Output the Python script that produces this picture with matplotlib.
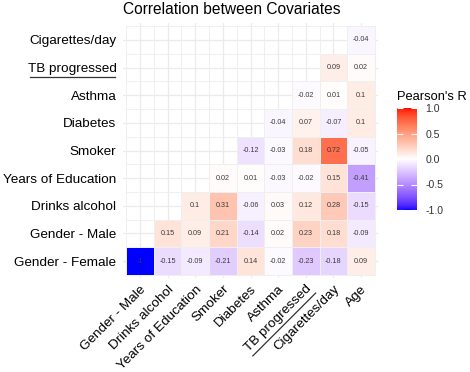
import numpy as np
import matplotlib
matplotlib.use("Agg")
import matplotlib.pyplot as plt
from matplotlib.colors import ListedColormap, Normalize
from matplotlib.lines import Line2D
import matplotlib.colorbar as mcolorbar

plt.rcParams['font.family'] = ['Liberation Sans', 'DejaVu Sans']

# ---- data ----
x_labels = ["Gender - Male", "Drinks alcohol", "Years of Education", "Smoker",
            "Diabetes", "Asthma", "TB progressed", "Cigarettes/day", "Age"]
y_labels = ["Gender - Female", "Gender - Male", "Drinks alcohol", "Years of Education",
            "Smoker", "Diabetes", "Asthma", "TB progressed", "Cigarettes/day"]

r_female = [-1, -0.15, -0.09, -0.21, 0.14, -0.02, -0.23, -0.18, 0.09]
r_male = [0.15, 0.09, 0.21, -0.14, 0.02, 0.23, 0.18, -0.09]
r_drinks = [0.1, 0.31, -0.06, 0.03, 0.12, 0.28, -0.15]
r_years = [0.02, 0.01, -0.03, -0.02, 0.15, -0.41]
r_smoker = [-0.12, -0.03, 0.18, 0.72, -0.05]
r_diabetes = [-0.04, 0.07, -0.07, 0.1]
r_asthma = [-0.02, 0.01, 0.1]
r_tb = [0.09, 0.02]
r_cig = [-0.04]
rows = [r_female, r_male, r_drinks, r_years, r_smoker, r_diabetes, r_asthma, r_tb, r_cig]

title = "Correlation between Covariates"
legend_title = "Pearson's R"
underlined = "TB progressed"

# ---- Lab-interpolated diverging palette (blue - white - red) ----
def srgb_to_lab(rgb):
    rgb = np.asarray(rgb, float)
    lin = np.where(rgb <= 0.04045, rgb / 12.92, ((rgb + 0.055) / 1.055) ** 2.4)
    M = np.array([[0.4124, 0.3576, 0.1805], [0.2126, 0.7152, 0.0722], [0.0193, 0.1192, 0.9505]])
    xyz = lin @ M.T / np.array([0.95047, 1.0, 1.08883])
    f = np.where(xyz > 0.008856, np.cbrt(xyz), 7.787 * xyz + 16 / 116)
    L = 116 * f[..., 1] - 16
    a = 500 * (f[..., 0] - f[..., 1])
    b = 200 * (f[..., 1] - f[..., 2])
    return np.stack([L, a, b], -1)

def lab_to_srgb(lab):
    L, a, b = lab[..., 0], lab[..., 1], lab[..., 2]
    fy = (L + 16) / 116
    fx = fy + a / 500
    fz = fy - b / 200
    f = np.stack([fx, fy, fz], -1)
    xyz = np.where(f ** 3 > 0.008856, f ** 3, (f - 16 / 116) / 7.787) * np.array([0.95047, 1.0, 1.08883])
    Minv = np.linalg.inv(np.array([[0.4124, 0.3576, 0.1805], [0.2126, 0.7152, 0.0722], [0.0193, 0.1192, 0.9505]]))
    lin = xyz @ Minv.T
    lin = np.clip(lin, 0, 1)
    rgb = np.where(lin <= 0.0031308, 12.92 * lin, 1.055 * lin ** (1 / 2.4) - 0.055)
    return np.clip(rgb, 0, 1)

lab_blue = srgb_to_lab([0, 0, 1])
lab_white = srgb_to_lab([1, 1, 1])
lab_red = srgb_to_lab([1, 0, 0])
t = np.linspace(0, 1, 256)[:, None]
lower = lab_blue + (lab_white - lab_blue) * t
upper = lab_white + (lab_red - lab_white) * t
cmap = ListedColormap(lab_to_srgb(np.vstack([lower, upper[1:]])))
norm = Normalize(-1, 1)

# ---- figure ----
W, H = 470, 372
fig = plt.figure(figsize=(W / 100, H / 100), dpi=100)
ax = fig.add_axes([123.4 / W, (H - 277.6) / H, 254.2 / W, 254.2 / H])

n = len(x_labels)
mat = np.full((len(y_labels), n), np.nan)
for i, r in enumerate(rows):
    mat[i, n - len(r):] = r
masked = np.ma.masked_invalid(mat)

ax.set_axisbelow(True)
ax.grid(True, color='#EBEBEB', lw=0.9)
xe = np.arange(n + 1) - 0.5
ye = np.arange(len(y_labels) + 1) - 0.5
ax.pcolormesh(xe, ye, masked, cmap=cmap, norm=norm, edgecolors='#EFEFEF', linewidth=0.5, zorder=2)
for i in range(len(y_labels)):
    for j in range(n):
        v = mat[i, j]
        if not np.isnan(v):
            ax.text(j, i, f"{v:g}", ha='center', va='center', fontsize=5.2, color='#3a3a3a', zorder=3)

ax.set_xlim(-0.6, n - 0.4)
ax.set_ylim(-0.6, len(y_labels) - 0.4)
ax.set_xticks(range(n))
ax.set_yticks(range(len(y_labels)))
ax.set_xticklabels(x_labels, rotation=45, ha='right', va='top', rotation_mode='anchor', fontsize=9.7, color='black')
ax.set_yticklabels(y_labels, fontsize=9.7, color='black')
ax.tick_params(length=0)
ax.tick_params(axis='x', pad=4)
ax.tick_params(axis='y', pad=5)
for s in ax.spines.values():
    s.set_visible(False)

fig.text(123.4 / W, (H - 10) / H, title, fontsize=11.2, ha='left', va='center', color='black')

# ---- colorbar ----
cax = fig.add_axes([397 / W, (H - 210) / H, 20 / W, 102 / H])
cb = mcolorbar.ColorbarBase(cax, cmap=cmap, norm=norm, ticks=[-1, -0.5, 0, 0.5, 1])
cb.outline.set_visible(False)
cax.set_yticklabels(["-1.0", "-0.5", "0.0", "0.5", "1.0"], fontsize=7.6, color='#333333')
cax.tick_params(axis='y', direction='in', color='white', length=4, width=0.8, left=True, right=True, pad=6)
fig.text(397 / W, (H - 97) / H, legend_title, fontsize=9.3, ha='left', va='center', color='black')

# ---- underlines under "TB progressed" labels ----
fig.canvas.draw()
renderer = fig.canvas.get_renderer()
for lab in ax.get_yticklabels():
    if lab.get_text() == underlined:
        bb = lab.get_window_extent(renderer)
        fig.add_artist(Line2D([bb.x0 + 2, bb.x1 - 1], [bb.y0 - 1.5, bb.y0 - 1.5],
                              transform=None, color='#333333', lw=0.9))
for lab in ax.get_xticklabels():
    if lab.get_text() == underlined:
        tmp = fig.text(0, 0, underlined, fontsize=lab.get_fontsize())
        tb = tmp.get_window_extent(renderer)
        w, h = tb.width, tb.height
        tmp.remove()
        bb = lab.get_window_extent(renderer)
        c = s = np.sqrt(0.5)
        off = 2.0
        p0 = (bb.x0 + h * s + off * s, bb.y0 - off * c)
        p1 = (bb.x1 + off * s, bb.y0 + w * s - off * c)
        fig.add_artist(Line2D([p0[0], p1[0]], [p0[1], p1[1]], transform=None, color='#333333', lw=0.9))

fig.savefig("out.png", dpi=100)
